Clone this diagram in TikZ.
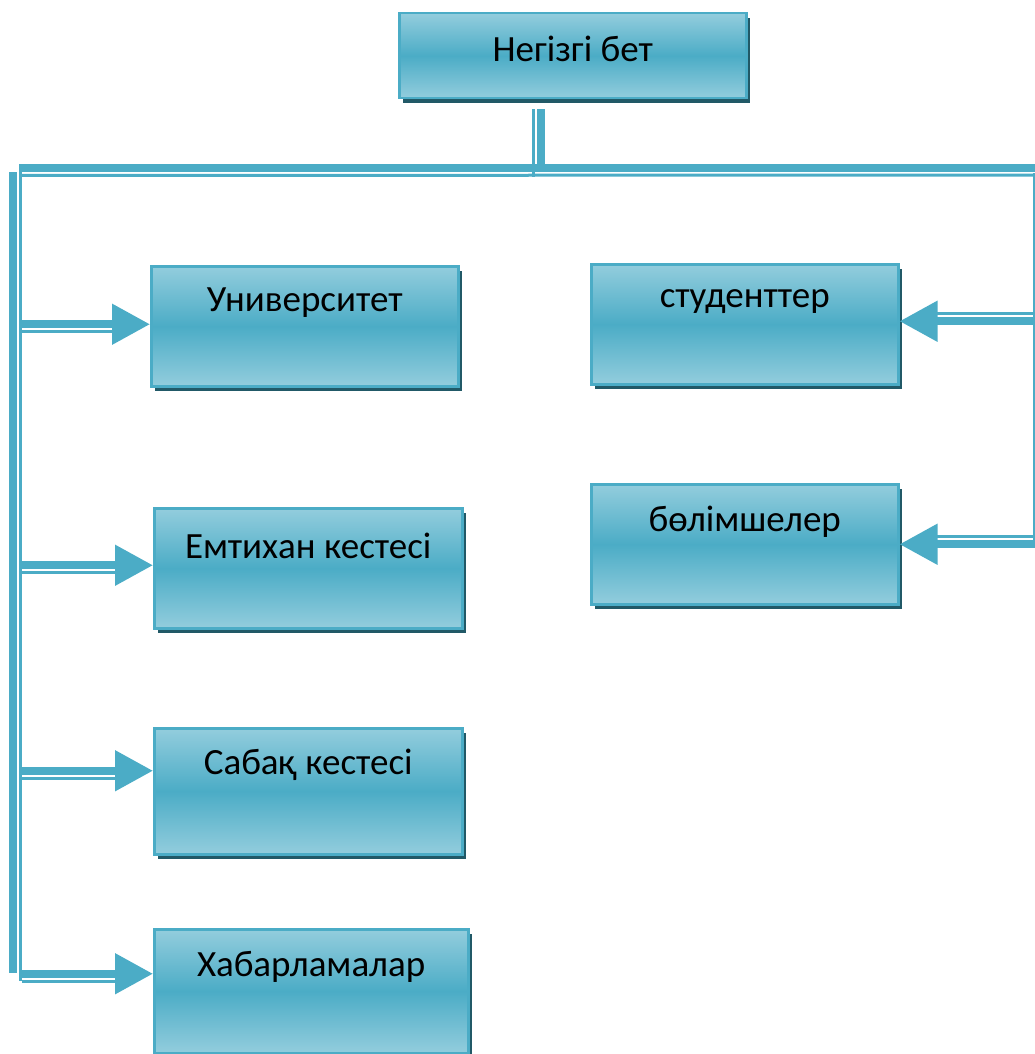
\documentclass[tikz,border=0pt]{standalone}
\usepackage{fontspec}
\setmainfont{Carlito}
\usetikzlibrary{arrows.meta,shadows}
\definecolor{tealmid}{HTML}{4BACC6}
\definecolor{teallight}{HTML}{93CDDD}
\definecolor{tealdark}{HTML}{215967}
\tikzset{
  blk/.style={draw=tealmid, line width=2.5pt, top color=teallight, bottom color=teallight,
    middle color=tealmid, anchor=north west, inner sep=0pt,
    drop shadow={shadow xshift=4pt, shadow yshift=-5pt, fill=tealdark, opacity=1}},
  thk/.style={draw=tealmid, line width=8pt},
  thn/.style={draw=tealmid, line width=3pt},
  arr/.style={-{Triangle[length=38pt,width=39pt]}},
  every label/.style={font=\fontsize{37}{42}\selectfont, text=black},
}
\begin{document}
\begin{tikzpicture}[x=1pt,y=-1pt]
        \useasboundingbox (0,0) rectangle (1035,1054);
        % boxes
        \node[blk, minimum width=347pt, minimum height=85pt,
          label={[anchor=center,yshift=-37pt]north:Негізгі бет}] (home) at (398,12) {};
        \node[blk, minimum width=307pt, minimum height=120pt,
          label={[anchor=center,yshift=-38pt]north:Университет}] (uni) at (150,265) {};
        \node[blk, minimum width=308pt, minimum height=120pt,
          label={[anchor=center,yshift=-39pt]north:Емтихан кестесі}] (exam) at (153,507) {};
        \node[blk, minimum width=308pt, minimum height=126pt,
          label={[anchor=center,yshift=-38pt]north:Сабақ кестесі}] (lesson) at (153,727) {};
        \node[blk, minimum width=314pt, minimum height=124pt,
          label={[anchor=center,yshift=-39pt]north:Хабарламалар}] (news) at (153,928) {};
        \node[blk, minimum width=307pt, minimum height=120pt,
          label={[anchor=center,yshift=-39pt]north:студенттер}] (stud) at (590,263) {};
        \node[blk, minimum width=307pt, minimum height=120pt,
          label={[anchor=center,yshift=-39pt]north:бөлімшелер}] (dept) at (590,483) {};
        % bus
        \coordinate (trunkL) at (12.5,168);
        \coordinate (trunkR) at (1034,168);
        \draw[thk] ([xshift=-31.5pt,yshift=-10pt]home.south) -- ([xshift=-31.5pt]home.south |- 0,172);
        \draw[thn] ([xshift=-39pt,yshift=-10pt]home.south) -- ([xshift=-39pt]home.south |- 0,177);
        \draw[thk] ([xshift=8.5pt]trunkL) -- ([xshift=1pt]trunkR);
        \draw[thn] ([xshift=8pt,yshift=-7.5pt]trunkL) -- ([yshift=-7pt]trunkR);
        \draw[thk] ([yshift=-4pt]trunkL) -- (trunkL |- 0,973);
        \draw[thn] ([xshift=8pt,yshift=4pt]trunkL) -- ([xshift=8pt]trunkL |- 0,981);
        \draw[thn] ([yshift=-5pt]trunkR) -- (trunkR |- 0,547);
        % left arrows
        \foreach \b/\s in {uni/2, exam/3, lesson/20.5, news/17.5}{
          \draw[thk, arr] ([xshift=7.5pt,yshift=\s pt]trunkL |- \b.west) -- ([yshift=\s pt]\b.west);
          \draw[thn] ([xshift=9.5pt,yshift=\s pt-7.5pt]trunkL |- \b.west) -- ([xshift=-37pt,yshift=\s pt-7.5pt]\b.west);
        }
        % right arrows
        \foreach \b/\s in {stud/3, dept/0}{
          \draw[thk, arr] ([xshift=1pt,yshift=\s pt]trunkR |- \b.east) -- ([yshift=\s pt]\b.east);
          \draw[thn] ([xshift=1pt,yshift=\s pt+7.5pt]trunkR |- \b.east) -- ([xshift=37pt,yshift=\s pt+7.5pt]\b.east);
        }
\end{tikzpicture}
\end{document}
